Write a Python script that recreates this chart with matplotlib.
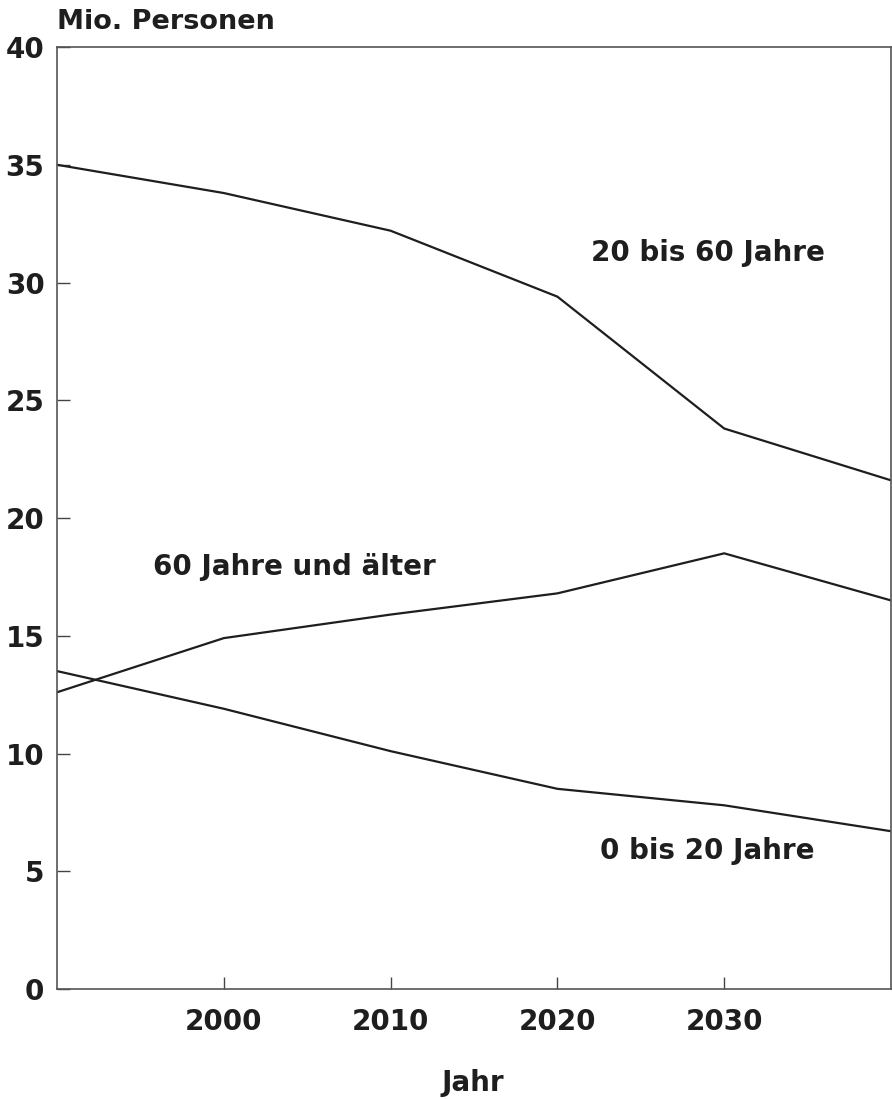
import matplotlib
matplotlib.use("Agg")
import matplotlib.pyplot as plt

years = [1990, 2000, 2010, 2020, 2030, 2040]
age_20_60 = [35.0, 33.8, 32.2, 29.4, 23.8, 21.6]
age_60_plus = [12.6, 14.9, 15.9, 16.8, 18.5, 16.5]
age_0_20 = [13.5, 11.9, 10.1, 8.5, 7.8, 6.7]
xticks = [2000, 2010, 2020, 2030]
yticks = [0, 5, 10, 15, 20, 25, 30, 35, 40]

plt.rcParams['font.family'] = ['DejaVu Sans']
plt.rcParams['font.weight'] = 'bold'
ink = '#1e1e1e'

fig = plt.figure(figsize=(8.92, 10.99), dpi=100)
ax = fig.add_axes([0.0639, 0.1001, 0.9350, 0.8571])

for s in (age_20_60, age_60_plus, age_0_20):
    ax.plot(years, s, color=ink, lw=1.6, solid_joinstyle='miter')

ax.set_xlim(1990, 2040)
ax.set_ylim(0, 40)
ax.set_xticks(xticks)
ax.set_yticks(yticks)
ax.tick_params(direction='in', length=9, width=1.0, color='#444444',
               labelsize=20, labelcolor=ink)
ax.tick_params(axis='y', pad=9)
ax.tick_params(axis='x', pad=14)
for sp in ax.spines.values():
    sp.set_color('#555555')
    sp.set_linewidth(1.2)

lbl = dict(ha='center', va='center', fontsize=20, color=ink)
ax.text(2029.0, 31.25, '20 bis 60 Jahre', **lbl)
ax.text(2004.25, 17.9, '60 Jahre und älter', **lbl)
ax.text(2029.0, 5.86, '0 bis 20 Jahre', **lbl)

fig.text(57/892, 1 - 22/1099, 'Mio. Personen', ha='left', va='center', fontsize=19.5, color=ink)
fig.text(473/892, 1 - 1083/1099, 'Jahr', ha='center', va='center', fontsize=20, color=ink)

fig.savefig('out.png', dpi=100)
